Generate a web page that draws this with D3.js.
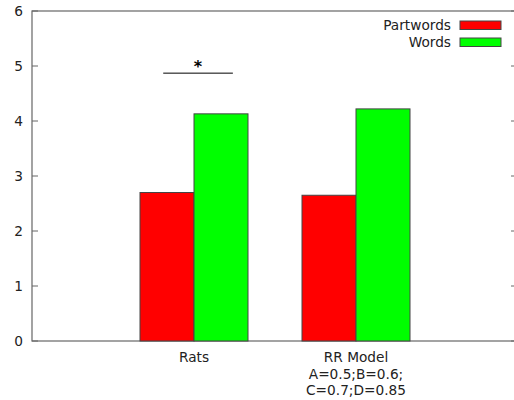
<!DOCTYPE html>
<html>
<head>
<meta charset="utf-8">
<script src="https://cdn.jsdelivr.net/npm/d3@7"></script>
<style>
  body { margin: 0; background: #fff; }
  svg { display: block; font-family: "DejaVu Sans", sans-serif; }
</style>
</head>
<body>
<svg width="514" height="400"></svg>
<script>
// data
const categories = ["Rats", "RR Model\nA=0.5;B=0.6;\nC=0.7;D=0.85"];
const seriesNames = ["Partwords", "Words"];
const partwords = [2.70, 2.65];
const words = [4.13, 4.22];
const yTicks = [0, 1, 2, 3, 4, 5, 6];
const colors = ["#ff0000", "#00ff00"];
// significance bar above Rats (x in category units, y in data units)
const sigLine = { x0: -0.19, x1: 0.24, y: 4.87, label: "*" };

const svg = d3.select("svg");
const margin = { top: 11, right: -4, bottom: 59, left: 32 };
const W = 514, H = 400;
const fs = 13.7;

const x = d3.scaleLinear().domain([-1, 2]).range([margin.left, W - margin.right]);
const y = d3.scaleLinear().domain([0, 6]).range([H - margin.bottom, margin.top]);
const bw = (x(1) - x(0)) / 3;

const axisColor = "#666";

// frame
svg.append("rect")
  .attr("x", x(-1)).attr("y", y(6))
  .attr("width", x(2) - x(-1)).attr("height", y(0) - y(6))
  .attr("fill", "none").attr("stroke", axisColor).attr("stroke-width", 1.2);

// y ticks left and mirrored right
svg.append("g").selectAll("line.l").data(yTicks).join("line")
  .attr("x1", x(-1)).attr("x2", x(-1) + 6)
  .attr("y1", d => y(d)).attr("y2", d => y(d))
  .attr("stroke", axisColor);
svg.append("g").selectAll("line.r").data(yTicks).join("line")
  .attr("x1", x(2)).attr("x2", x(2) - 7)
  .attr("y1", d => y(d)).attr("y2", d => y(d))
  .attr("stroke", axisColor);

svg.append("g").selectAll("text").data(yTicks).join("text")
  .attr("x", x(-1) - 9).attr("y", d => y(d)).attr("dy", "0.36em")
  .attr("text-anchor", "end").attr("font-size", fs).attr("fill", "#222")
  .text(d => d);

// bars
const series = [partwords, words];
series.forEach((vals, si) => {
  svg.append("g").selectAll("rect").data(vals).join("rect")
    .attr("x", (d, i) => x(i) - bw + si * bw)
    .attr("y", d => y(d))
    .attr("width", bw)
    .attr("height", d => y(0) - y(d))
    .attr("fill", colors[si])
    .attr("stroke", "#444").attr("stroke-width", 1);
});

// category labels
categories.forEach((c, i) => {
  const t = svg.append("text")
    .attr("x", x(i)).attr("y", y(0) + 21)
    .attr("text-anchor", "middle").attr("font-size", fs).attr("fill", "#222");
  c.split("\n").forEach((line, j) => {
    t.append("tspan").attr("x", x(i)).attr("dy", j === 0 ? 0 : 16.5).text(line);
  });
});

// significance marker
svg.append("line")
  .attr("x1", x(sigLine.x0)).attr("x2", x(sigLine.x1))
  .attr("y1", y(sigLine.y)).attr("y2", y(sigLine.y))
  .attr("stroke", "#000").attr("stroke-width", 1);
svg.append("text")
  .attr("x", x((sigLine.x0 + sigLine.x1) / 2)).attr("y", y(sigLine.y) - 1)
  .attr("text-anchor", "middle").attr("font-size", 16).attr("font-weight", "bold")
  .text(sigLine.label);

// legend
const legend = svg.append("g");
seriesNames.forEach((name, i) => {
  const ly = 25 + i * 17;
  legend.append("text")
    .attr("x", 451).attr("y", ly).attr("dy", "0.36em")
    .attr("text-anchor", "end").attr("font-size", fs).attr("fill", "#222")
    .text(name);
  legend.append("rect")
    .attr("x", 460).attr("y", ly - 4).attr("width", 41).attr("height", 8.5)
    .attr("fill", colors[i]).attr("stroke", "#444");
});
</script>
</body>
</html>
